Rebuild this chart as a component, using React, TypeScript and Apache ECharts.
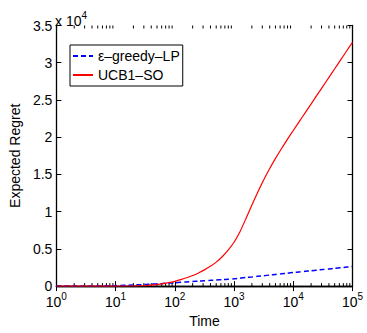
import React, { useEffect, useRef } from 'react';
import * as echarts from 'echarts';

const timeSteps = [1, 3, 10, 20, 32, 40, 50, 63, 79, 100, 126, 158, 200, 251, 316, 398, 501, 631, 794, 1000, 1259, 1585, 1995, 2512, 3162, 3981, 5012, 6310, 7943, 10000, 12589, 15849, 19953, 25119, 31623, 39811, 50119, 63096, 79433, 100000];
const greedyRegret = [0, 5, 60, 150, 220, 260, 300, 350, 400, 450, 505, 560, 615, 665, 720, 770, 825, 875, 930, 980, 1065, 1150, 1230, 1315, 1400, 1480, 1565, 1650, 1735, 1820, 1900, 1980, 2060, 2145, 2225, 2305, 2385, 2470, 2550, 2630];
const ucbRegret = [0, 0, 5, 25, 75, 130, 210, 320, 460, 640, 860, 1120, 1420, 1770, 2180, 2650, 3220, 3940, 4830, 5890, 7300, 9050, 10870, 12620, 14250, 15750, 17150, 18450, 19700, 20900, 22080, 23270, 24450, 25640, 26820, 28010, 29190, 30380, 31570, 32750];
const seriesNames = ['ε–greedy–LP', 'UCB1–SO'];
const yTicksMax = 35000;
const minorTickValues: number[] = [];
for (let d = 0; d < 5; d++) {
  for (let k = 2; k <= 9; k++) minorTickValues.push(k * Math.pow(10, d));
}

const FONT = "'Liberation Sans', Arial, Helvetica, sans-serif";

export default function App() {
  const ref = useRef<HTMLDivElement>(null);
  useEffect(() => {
    const chart = echarts.init(ref.current!, null, { renderer: 'svg' });
    const axisLine = { show: true, lineStyle: { color: '#000', width: 1.3 } };
    const xLabel = {
      formatter: (v: number) => '{b|10}{s|' + Math.round(Math.log10(v)) + '}',
      margin: 5,
      rich: {
        b: { fontSize: 14, fontFamily: FONT, color: '#000', lineHeight: 18, verticalAlign: 'bottom' },
        s: { fontSize: 10, fontFamily: FONT, color: '#000', lineHeight: 18, verticalAlign: 'top' },
      },
    };
    chart.setOption({
      animation: false,
      backgroundColor: '#fff',
      textStyle: { fontFamily: FONT },
      grid: { left: 55, right: 14.5, top: 25.5, bottom: 35.5, containLabel: false },
      legend: {
        data: seriesNames,
        orient: 'vertical',
        left: 70,
        top: 45,
        padding: [4, 3, 4, 2],
        itemGap: 5,
        itemWidth: 20,
        itemHeight: 14,
        borderColor: '#000',
        borderWidth: 1,
        backgroundColor: '#fff',
        itemStyle: { opacity: 0 },
        textStyle: { fontSize: 14, color: '#000', fontFamily: FONT },
      },
      graphic: [
        {
          type: 'text',
          left: 55,
          top: 10,
          style: {
            text: '{a|x 10}{s|4}',
            rich: {
              a: { fontSize: 14, fontFamily: FONT, fill: '#000', lineHeight: 18, verticalAlign: 'bottom' },
              s: { fontSize: 10, fontFamily: FONT, fill: '#000', lineHeight: 18, verticalAlign: 'top' },
            },
          },
        },
      ],
      xAxis: [
        {
          type: 'log',
          logBase: 10,
          min: 1,
          max: 100000,
          splitNumber: 5,
          name: 'Time',
          nameLocation: 'middle',
          nameGap: 21,
          nameTextStyle: { fontSize: 14, color: '#000', fontFamily: FONT },
          axisLine,
          axisTick: { show: true, inside: true, length: 5, lineStyle: { color: '#000', width: 1 } },
          axisLabel: xLabel,
          splitLine: { show: false },
          minorTick: { show: false },
        },
        {
          type: 'log',
          logBase: 10,
          min: 1,
          max: 100000,
          splitNumber: 5,
          position: 'top',
          axisLine,
          axisTick: { show: true, inside: true, length: 5, lineStyle: { color: '#000', width: 1 } },
          axisLabel: { show: false },
          splitLine: { show: false },
        },
      ],
      yAxis: [
        {
          type: 'value',
          min: 0,
          max: yTicksMax,
          interval: 5000,
          name: 'Expected Regret',
          nameLocation: 'middle',
          nameGap: 26,
          nameTextStyle: { fontSize: 14, color: '#000', fontFamily: FONT },
          axisLine,
          axisTick: { show: true, inside: true, length: 5, lineStyle: { color: '#000', width: 1 } },
          axisLabel: {
            formatter: (v: number) => String(v / 10000),
            fontSize: 14,
            color: '#000',
            fontFamily: FONT,
            margin: 4,
          },
          splitLine: { show: false },
        },
        {
          type: 'value',
          min: 0,
          max: yTicksMax,
          interval: 5000,
          position: 'right',
          axisLine,
          axisTick: { show: true, inside: true, length: 5, lineStyle: { color: '#000', width: 1 } },
          axisLabel: { show: false },
          splitLine: { show: false },
        },
      ],
      series: [
        {
          name: seriesNames[0],
          type: 'line',
          data: timeSteps.map((t, i) => [t, greedyRegret[i]]),
          showSymbol: false,
          symbol: 'circle',
          smooth: 0.2,
          color: '#0000ff',
          lineStyle: { color: '#0000ff', width: 1.5, type: [5, 3] },
          z: 3,
        },
        {
          name: seriesNames[1],
          type: 'line',
          data: timeSteps.map((t, i) => [t, ucbRegret[i]]),
          showSymbol: false,
          symbol: 'circle',
          smooth: 0.2,
          color: '#ff0000',
          lineStyle: { color: '#ff0000', width: 1.2 },
          z: 4,
        },
        {
          type: 'custom',
          name: 'minorTicks',
          silent: true,
          data: minorTickValues.map((v) => [v]),
          encode: { x: 0 },
          renderItem: (params: any, api: any) => {
            const v = api.value(0);
            const b = api.coord([v, 0]);
            const t = api.coord([v, yTicksMax]);
            return {
              type: 'group',
              children: [
                { type: 'line', shape: { x1: b[0], y1: b[1], x2: b[0], y2: b[1] - 3 }, style: { stroke: '#000', lineWidth: 1 } },
                { type: 'line', shape: { x1: t[0], y1: t[1], x2: t[0], y2: t[1] + 3 }, style: { stroke: '#000', lineWidth: 1 } },
              ],
            };
          },
          z: 2,
        },
      ],
    });
    return () => chart.dispose();
  }, []);
  return <div ref={ref} style={{ position: 'fixed', left: 0, top: 0, width: 367, height: 333 }} />;
}
